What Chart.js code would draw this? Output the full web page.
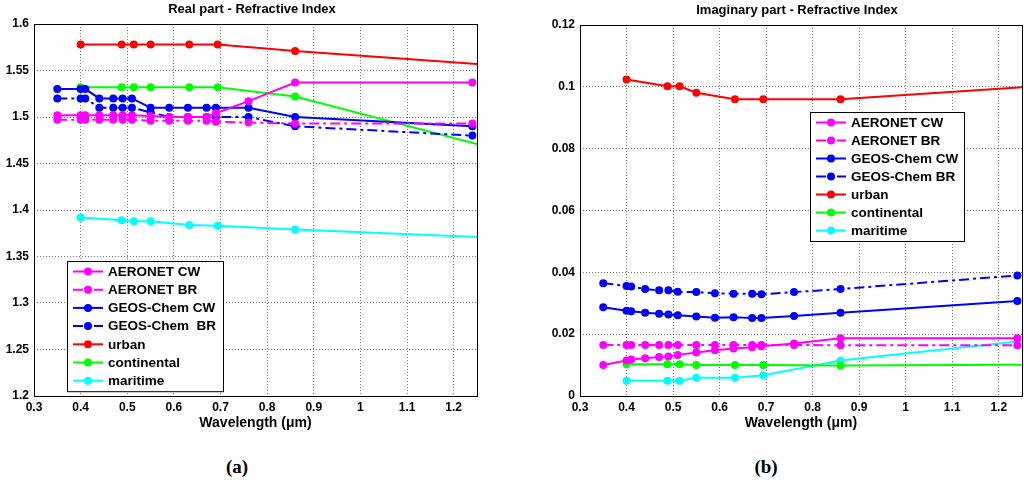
<!DOCTYPE html>
<html>
<head>
<meta charset="utf-8">
<title>Refractive Index</title>
<script src="https://cdn.jsdelivr.net/npm/chart.js@4.4.1/dist/chart.umd.min.js"></script>
<style>
   html, body { margin: 0; padding: 0; width: 1024px; height: 486px; overflow: hidden; background: #fff; }
   .panel { position: absolute; top: 0; }
   #realBox { left: 0; }
   #imagBox { left: 530px; }
   .tag { position: absolute; top: 456px; transform: translateX(-50%); font: bold 19px "Liberation Serif", "Times New Roman", serif; color: #000; }
</style>
</head>
<body>
<div class="panel" id="realBox"><canvas id="realChart" width="504" height="440"></canvas></div>
<div class="panel" id="imagBox"><canvas id="imagChart" width="534" height="440"></canvas></div>
<div class="tag" style="left:237px">(a)</div>
<div class="tag" style="left:766px">(b)</div>
<script>
// wavelengths (um)
const wavelengthsGeos = [0.35, 0.40, 0.41, 0.44, 0.47, 0.49, 0.51, 0.55, 0.59, 0.63, 0.67, 0.69, 0.76, 0.86, 1.24];
const wavelengthsOpac = [0.40, 0.488, 0.514, 0.55, 0.633, 0.694, 0.86, 1.25];

const xTickValues = [0.3, 0.4, 0.5, 0.6, 0.7, 0.8, 0.9, 1, 1.1, 1.2];
const realTickValues = [1.2, 1.25, 1.3, 1.35, 1.4, 1.45, 1.5, 1.55, 1.6];
const imagTickValues = [0, 0.02, 0.04, 0.06, 0.08, 0.1, 0.12];

const realLegendNames = ['AERONET CW', 'AERONET BR', 'GEOS-Chem CW', 'GEOS-Chem  BR', 'urban', 'continental', 'maritime'];
const imagLegendNames = ['AERONET CW', 'AERONET BR', 'GEOS-Chem CW', 'GEOS-Chem BR', 'urban', 'continental', 'maritime'];

// real part
const aeronetCwReal = [1.502, 1.502, 1.502, 1.502, 1.502, 1.502, 1.502, 1.501, 1.500, 1.500, 1.500, 1.504, 1.517, 1.537, 1.537];
const aeronetBrReal = [1.497, 1.497, 1.497, 1.497, 1.497, 1.497, 1.497, 1.496, 1.496, 1.496, 1.496, 1.495, 1.494, 1.493, 1.493];
const geosCwReal = [1.53, 1.53, 1.53, 1.52, 1.52, 1.52, 1.52, 1.51, 1.51, 1.51, 1.51, 1.51, 1.51, 1.50, 1.49];
const geosBrReal = [1.52, 1.52, 1.52, 1.51, 1.51, 1.51, 1.51, 1.505, 1.50, 1.50, 1.50, 1.50, 1.50, 1.49, 1.48];
const urbanReal = [1.578, 1.578, 1.578, 1.578, 1.578, 1.578, 1.571, 1.557];
const continentalReal = [1.532, 1.532, 1.532, 1.532, 1.532, 1.532, 1.522, 1.471];
const maritimeReal = [1.392, 1.389, 1.388, 1.388, 1.384, 1.383, 1.379, 1.371];

// imaginary part
const aeronetCwImag = [0.0100, 0.0115, 0.0118, 0.0122, 0.0126, 0.0128, 0.0133, 0.0141, 0.0148, 0.0154, 0.0158, 0.0161, 0.0170, 0.0187, 0.0187];
const aeronetBrImag = [0.0165, 0.0165, 0.0165, 0.0165, 0.0165, 0.0165, 0.0165, 0.0165, 0.0165, 0.0165, 0.0165, 0.0165, 0.0165, 0.0164, 0.0164];
const geosCwImag = [0.0287, 0.0276, 0.0274, 0.0269, 0.0266, 0.0264, 0.0261, 0.0257, 0.0253, 0.0255, 0.0252, 0.0252, 0.0259, 0.0269, 0.0307];
const geosBrImag = [0.0365, 0.0356, 0.0354, 0.0346, 0.0342, 0.0342, 0.0337, 0.0336, 0.0332, 0.0331, 0.0331, 0.0329, 0.0336, 0.0346, 0.0390];
const urbanImag = [0.1024, 0.1002, 0.1002, 0.0981, 0.0960, 0.0960, 0.0960, 0.0999];
const continentalImag = [0.0103, 0.0103, 0.0103, 0.0100, 0.0100, 0.0100, 0.0099, 0.0101];
const maritimeImag = [0.0049, 0.0049, 0.0049, 0.0059, 0.0059, 0.0067, 0.0115, 0.0178];

const X_MIN = 0.3;
const X_MAX = 1.25;
const FONT = '"Liberation Sans", Arial, sans-serif';
const DASH_DOT = [10, 4, 3, 4];

Chart.defaults.font.family = FONT;
Chart.defaults.font.weight = 'bold';
Chart.defaults.font.size = 12;
Chart.defaults.color = '#000';

// black box round the plot area, like matlab's axes box
const frameBox = {
   id: 'frameBox',
   afterDatasetsDraw(chart) {
      const {ctx, chartArea} = chart;
      ctx.save();
      ctx.strokeStyle = '#000';
      ctx.lineWidth = 1;
      ctx.strokeRect(Math.round(chartArea.left) + 0.5, Math.round(chartArea.top) + 0.5,
         Math.round(chartArea.width), Math.round(chartArea.height));
      ctx.restore();
   }
};

// legend drawn inside the plot, with line sample + marker
const boxLegend = {
   id: 'boxLegend',
   afterDraw(chart, args, opts) {
      const {ctx} = chart;
      const sets = chart.data.datasets;
      const height = opts.rowHeight * (sets.length - 1) + opts.edge * 2;
      ctx.save();
      ctx.fillStyle = '#fff';
      ctx.fillRect(opts.left, opts.top, opts.width, height);
      ctx.strokeStyle = '#000';
      ctx.lineWidth = 1;
      ctx.strokeRect(opts.left + 0.5, opts.top + 0.5, opts.width, height);

      ctx.font = 'bold 13.5px ' + FONT;
      ctx.textBaseline = 'middle';
      sets.forEach((ds, i) => {
         const y = opts.top + opts.edge + i * opts.rowHeight;
         const x0 = opts.left + 6;
         const x1 = opts.left + 36;
         ctx.strokeStyle = ds.borderColor;
         ctx.lineWidth = 2;
         ctx.setLineDash(ds.borderDash || []);
         ctx.beginPath();
         ctx.moveTo(x0, y);
         ctx.lineTo(x1, y);
         ctx.stroke();
         ctx.setLineDash([]);
         ctx.fillStyle = ds.borderColor;
         ctx.beginPath();
         ctx.arc((x0 + x1) / 2, y, 4, 0, Math.PI * 2);
         ctx.fill();
         ctx.fillStyle = '#000';
         ctx.fillText(opts.names[i], opts.left + 41, y + 0.5);
      });
      ctx.restore();
   }
};

function makeDataset(label, xs, ys, color, dashed) {
   return {
      label: label,
      data: xs.map((x, i) => ({x: x, y: ys[i]})),
      borderColor: color,
      backgroundColor: color,
      pointBackgroundColor: color,
      pointBorderColor: color,
      borderWidth: 2,
      borderDash: dashed ? DASH_DOT : [],
      pointRadius: ctx => (ctx.raw && ctx.raw.x >= X_MAX) ? 0 : 4,
      pointBorderWidth: 0,
      tension: 0,
      fill: false
   };
}

function createChart(canvasId, cfg) {
   const ctx = document.getElementById(canvasId).getContext('2d');
   const series = cfg.series;
   const datasets = [
      makeDataset(cfg.names[0], wavelengthsGeos, series[0], '#ff00ff', false),
      makeDataset(cfg.names[1], wavelengthsGeos, series[1], '#ff00ff', true),
      makeDataset(cfg.names[2], wavelengthsGeos, series[2], '#0000ff', false),
      makeDataset(cfg.names[3], wavelengthsGeos, series[3], '#0000ff', true),
      makeDataset(cfg.names[4], wavelengthsOpac, series[4], '#ff0000', false),
      makeDataset(cfg.names[5], wavelengthsOpac, series[5], '#00ff00', false),
      makeDataset(cfg.names[6], wavelengthsOpac, series[6], '#00ffff', false)
   ];
   const gridStyle = {color: 'rgba(0,0,0,0.55)', lineWidth: 1, drawTicks: false};

   return new Chart(ctx, {
      type: 'line',
      data: {datasets: datasets},
      plugins: [frameBox, boxLegend],
      options: {
         responsive: false,
         animation: false,
         events: [],
         layout: {padding: {top: 0, right: 0, bottom: 8.6, left: 0}},
         scales: {
            x: {
               type: 'linear',
               min: X_MIN,
               max: X_MAX,
               afterBuildTicks: scale => { scale.ticks = xTickValues.map(v => ({value: v})); },
               afterFit: scale => { scale.height = 35.4; },
               grid: gridStyle,
               border: {display: false, dash: [1, 2]},
               ticks: {padding: 4, maxRotation: 0, autoSkip: false, callback: v => String(v), font: {size: 12, weight: 'bold'}},
               title: {display: true, text: 'Wavelength (\u03bcm)', padding: 0, font: {size: 14, weight: 'bold'}}
            },
            y: {
               type: 'linear',
               min: cfg.yTicks[0],
               max: cfg.yTicks[cfg.yTicks.length - 1],
               afterBuildTicks: scale => { scale.ticks = cfg.yTicks.map(v => ({value: v})); },
               afterFit: scale => { scale.width = cfg.yAxisWidth; },
               grid: gridStyle,
               border: {display: false, dash: [1, 2]},
               ticks: {padding: 5, autoSkip: false, callback: v => String(v), font: {size: 12, weight: 'bold'}}
            },
            // empty axis on the right, only to keep room so the title centres like the original
            spacer: {
               type: 'linear',
               position: 'right',
               display: true,
               grid: {display: false, drawTicks: false},
               border: {display: false},
               ticks: {display: false},
               afterFit: scale => { scale.width = cfg.rightSpace; }
            }
         },
         plugins: {
            legend: {display: false},
            tooltip: {enabled: false},
            title: {
               display: true,
               text: cfg.title,
               color: '#000',
               font: {size: 13, weight: 'bold'},
               padding: cfg.titlePadding
            },
            boxLegend: cfg.legend
         }
      }
   });
}

createChart('realChart', {
   title: 'Real part - Refractive Index',
   names: realLegendNames,
   series: [aeronetCwReal, aeronetBrReal, geosCwReal, geosBrReal, urbanReal, continentalReal, maritimeReal],
   yTicks: realTickValues,
   yAxisWidth: 34,
   rightSpace: 27,
   titlePadding: {top: 2, bottom: 6.4},
   legend: {names: realLegendNames, left: 67, top: 261, width: 156, rowHeight: 18.2, edge: 10.5}
});

createChart('imagChart', {
   title: 'Imaginary part - Refractive Index',
   names: imagLegendNames,
   series: [aeronetCwImag, aeronetBrImag, geosCwImag, geosBrImag, urbanImag, continentalImag, maritimeImag],
   yTicks: imagTickValues,
   yAxisWidth: 50,
   rightSpace: 42,
   titlePadding: {top: 3, bottom: 6.4},
   legend: {names: imagLegendNames, left: 280, top: 112, width: 154, rowHeight: 18, edge: 10.5}
});
</script>
</body>
</html>
